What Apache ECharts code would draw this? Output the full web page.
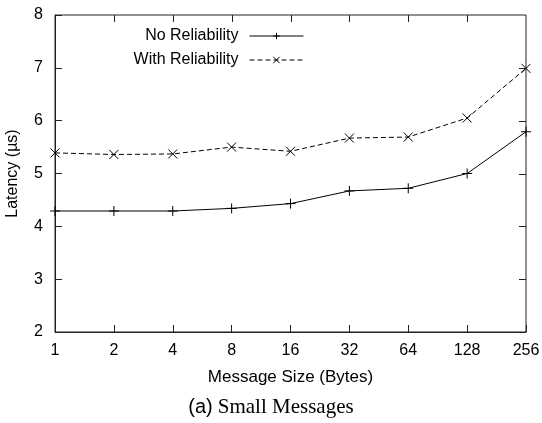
<!DOCTYPE html>
<html>
<head>
<meta charset="utf-8">
<script src="https://cdn.jsdelivr.net/npm/echarts@6/dist/echarts.min.js"></script>
<style>
  html, body { margin: 0; padding: 0; background: #fff; }
  #chart { width: 542px; height: 423px; }
</style>
</head>
<body>
<div id="chart"></div>
<script>
// message sizes (bytes) on the x axis
const sizes = ['1', '2', '4', '8', '16', '32', '64', '128', '256']
// latency in microseconds
const noReliability = [4.29, 4.29, 4.29, 4.34, 4.43, 4.67, 4.72, 5.00, 5.79]
const withReliability = [5.39, 5.36, 5.37, 5.50, 5.42, 5.67, 5.69, 6.05, 6.99]
const yTicks = {min: 2, max: 8, step: 1}

const plusPath = 'path://M0,5L10,5M5,0L5,10'
const crossPath = 'path://M0,0L10,10M10,0L0,10'
const ink = '#000'
const frame = '#222'
const sans = 'Liberation Sans'
const tickLen = 7

const chart = echarts.init(document.getElementById('chart'))

const option = {
  animation: false,
  backgroundColor: '#fff',
  title: {
    text: '{a|(a)} {b|Small Messages}',
    left: 'center',
    top: 397,
    padding: 0,
    textStyle: {
      rich: {
        a: {fontFamily: sans, fontSize: 20, fontWeight: 'normal', color: ink},
        b: {fontFamily: 'Liberation Serif', fontSize: 21, fontWeight: 'normal', color: ink}
      }
    }
  },
  // grid border gives the gnuplot box
  grid: {
    left: 55, right: 16, top: 15, bottom: 91,
    outerBoundsMode: 'none',
    show: true,
    borderColor: frame,
    borderWidth: 1,
    backgroundColor: 'rgba(0,0,0,0)'
  },
  legend: {
    orient: 'vertical',
    align: 'right',
    right: 238,
    top: 28,
    padding: 0,
    itemGap: 8,
    itemWidth: 54,
    itemHeight: 8,
    lineStyle: {width: 1},
    itemStyle: {borderWidth: 1},
    textStyle: {color: ink, fontFamily: sans, fontSize: 16, padding: [0, 6, 0, 0]},
    data: ['No Reliability', 'With Reliability']
  },
  xAxis: {
    type: 'category',
    boundaryGap: false,
    data: sizes,
    name: 'Message Size (Bytes)',
    nameLocation: 'middle',
    nameGap: 37,
    nameTextStyle: {color: ink, fontFamily: sans, fontSize: 17},
    axisLine: {show: true, onZero: false, lineStyle: {color: frame, width: 1}},
    axisTick: {show: true, inside: true, length: tickLen, lineStyle: {color: frame, width: 1}},
    splitLine: {show: false},
    axisLabel: {color: ink, fontFamily: sans, fontSize: 16, margin: 11}
  },
  yAxis: {
    type: 'value',
    min: yTicks.min,
    max: yTicks.max,
    interval: yTicks.step,
    name: 'Latency (µs)',
    nameLocation: 'middle',
    nameGap: 34,
    nameTextStyle: {color: ink, fontFamily: sans, fontSize: 16},
    axisLine: {show: true, lineStyle: {color: frame, width: 1}},
    axisTick: {show: true, inside: true, length: tickLen, lineStyle: {color: frame, width: 1}},
    splitLine: {show: false},
    axisLabel: {color: ink, fontFamily: sans, fontSize: 16, margin: 12}
  },
  series: [
    {
      name: 'No Reliability',
      type: 'line',
      data: noReliability,
      symbol: plusPath,
      symbolSize: 10,
      lineStyle: {color: ink, width: 1},
      itemStyle: {color: ink, borderColor: ink, borderWidth: 1},
      emphasis: {disabled: true}
    },
    {
      name: 'With Reliability',
      type: 'line',
      data: withReliability,
      symbol: crossPath,
      symbolSize: 9,
      lineStyle: {color: ink, width: 1, type: [5, 3]},
      itemStyle: {color: ink, borderColor: ink, borderWidth: 1},
      emphasis: {disabled: true}
    }
  ]
}

chart.setOption(option)

// mirror ticks on the top and right border, placed through the chart's own scales
const ticks = []
const tickStyle = {stroke: frame, lineWidth: 1}
const toPx = (cat, val) => chart.convertToPixel({xAxisIndex: 0, yAxisIndex: 0}, [cat, val])
for (let i = 1; i < sizes.length - 1; i++) {
  const p = toPx(i, yTicks.max)
  const x = Math.round(p[0]) + 0.5
  ticks.push({type: 'line', silent: true, zlevel: 1, z: 100,
    shape: {x1: x, y1: p[1], x2: x, y2: p[1] + tickLen}, style: tickStyle})
}
for (let v = yTicks.min + yTicks.step; v < yTicks.max; v += yTicks.step) {
  const p = toPx(sizes.length - 1, v)
  const y = Math.round(p[1]) + 0.5
  ticks.push({type: 'line', silent: true, zlevel: 1, z: 100,
    shape: {x1: p[0], y1: y, x2: p[0] - tickLen, y2: y}, style: tickStyle})
}
chart.setOption({graphic: {elements: ticks}})
</script>
</body>
</html>
